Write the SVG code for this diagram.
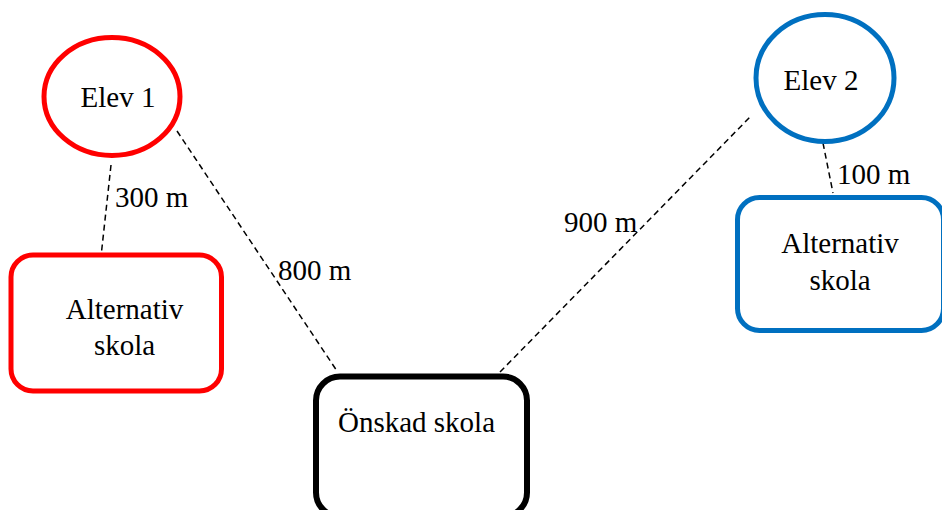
<svg xmlns="http://www.w3.org/2000/svg" width="942" height="510" viewBox="0 0 942 510">
<style>
text{font-family:"Liberation Serif","Times New Roman",serif;font-size:29px;fill:#000;}
.c{text-anchor:middle;}
.red{fill:#fff;stroke:#FF0000;stroke-width:5;}
.blue{fill:#fff;stroke:#0070C0;stroke-width:5;}
.blk{fill:#fff;stroke:#000;stroke-width:6;}
.dash{stroke:#000;stroke-width:1.5;stroke-dasharray:6 4;fill:none;}
</style>
<rect width="942" height="510" fill="#fff"/>
<g id="connectors">
<line class="dash" x1="111" y1="165" x2="101.5" y2="252"/>
<line class="dash" x1="177" y1="131" x2="337" y2="371"/>
<line class="dash" x1="500" y1="372" x2="752" y2="115"/>
<line class="dash" x1="823" y1="143" x2="833" y2="193"/>
<text x="115" y="207">300 m</text>
<text x="278" y="280">800 m</text>
<text x="564" y="232">900 m</text>
<text x="837" y="184">100 m</text>
</g>
<g id="elev1">
<ellipse class="red" cx="112" cy="96.5" rx="68" ry="59"/>
<text class="c" x="118" y="107">Elev 1</text>
</g>
<g id="alt1">
<rect class="red" x="11" y="255" width="210.5" height="136" rx="22"/>
<text class="c" x="124.5" y="319">Alternativ</text>
<text class="c" x="124.5" y="355">skola</text>
</g>
<g id="onskad">
<rect class="blk" x="316" y="376.5" width="211" height="140" rx="24"/>
<text class="c" x="416.5" y="432">Önskad skola</text>
</g>
<g id="elev2">
<ellipse class="blue" cx="825" cy="78" rx="69" ry="63.5"/>
<text class="c" x="821" y="90">Elev 2</text>
</g>
<g id="alt2">
<rect class="blue" x="737.5" y="197.5" width="206" height="133" rx="22"/>
<text class="c" x="840" y="253">Alternativ</text>
<text class="c" x="840" y="290">skola</text>
</g>
</svg>
